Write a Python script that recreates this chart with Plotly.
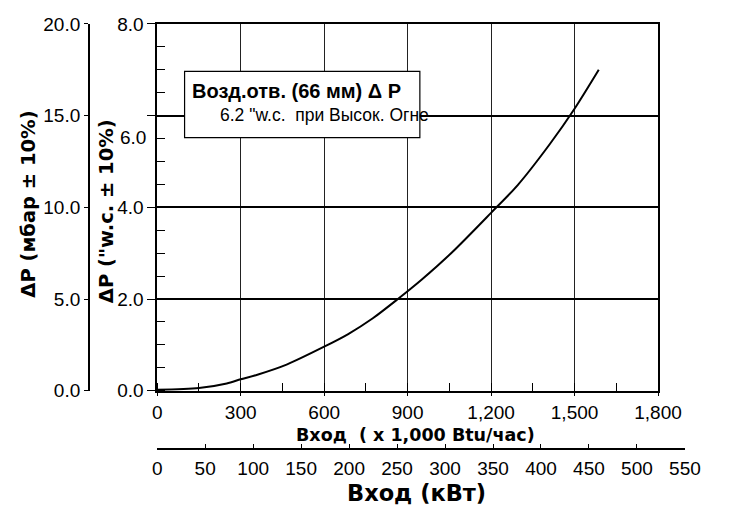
import plotly.graph_objects as go

# Data
input_kbtu = [0, 150, 250, 300, 360, 465, 600, 685, 775, 865, 950, 1060, 1200, 1295, 1410, 1500, 1587]
dp_wc = [0.02, 0.06, 0.16, 0.25, 0.35, 0.57, 0.96, 1.23, 1.58, 2.0, 2.42, 3.02, 3.88, 4.48, 5.37, 6.15, 7.0]

x_ticks = [0, 300, 600, 900, 1200, 1500, 1800]
y_ticks = [0, 2, 4, 6, 8]
y_ticktext = ["0.0", "2.0", "4.0", "", "8.0"]
mbar_ticks = [0, 5, 10, 15, 20]
mbar_ticktext = ["0.0", "5.0", "10.0", "15.0", "20.0"]
kw_ticks = [0, 50, 100, 150, 200, 250, 300, 350, 400, 450, 500, 550]

W, H = 731, 513
FONT = "Liberation Sans, Arial, Helvetica, sans-serif"
WIDE = "DejaVu Sans, Verdana, sans-serif"
TICK = 19

def px(x):
    return x / W

def py(y):
    return 1 - y / H

fig = go.Figure()
fig.add_trace(go.Scatter(
    x=input_kbtu, y=dp_wc, mode="lines",
    line=dict(color="black", width=2, shape="spline", smoothing=0.8),
    showlegend=False, hoverinfo="skip",
))
# empty traces so the secondary axes are drawn
fig.add_trace(go.Scatter(x=[], y=[], xaxis="x", yaxis="y2", showlegend=False, hoverinfo="skip"))
fig.add_trace(go.Scatter(x=[], y=[], xaxis="x2", yaxis="y3", showlegend=False, hoverinfo="skip"))

xdom = [px(158.5), px(680)]
ydom = [py(397), py(14.5)]

fig.update_layout(
    width=W, height=H, autosize=False,
    margin=dict(l=0, r=0, t=0, b=0),
    paper_bgcolor="white", plot_bgcolor="white",
    font=dict(family=FONT, color="black", size=TICK),
    xaxis=dict(
        domain=xdom, range=[0, 1800], tickvals=x_ticks, tickformat=",",
        showline=True, linecolor="black", linewidth=1.5, mirror=True,
        showgrid=True, gridcolor="#222", gridwidth=1.3, zeroline=False,
        ticks="outside", ticklen=4, tickcolor="black", tickwidth=1.3,
        minor=dict(ticks="inside", dtick=150, tick0=0, ticklen=8, tickcolor="black", tickwidth=1.2, showgrid=False),
        tickfont=dict(size=TICK, family=FONT),
    ),
    yaxis=dict(
        domain=ydom, range=[0, 8], tickvals=y_ticks, ticktext=y_ticktext,
        showline=True, linecolor="black", linewidth=1.5, mirror=True,
        showgrid=True, gridcolor="black", gridwidth=1.6, zeroline=False,
        ticks="outside", ticklen=8, tickcolor="black", tickwidth=1.3,
        minor=dict(ticks="inside", dtick=0.5, tick0=0, ticklen=8, tickcolor="black", tickwidth=1.2, showgrid=False),
        tickfont=dict(size=TICK, family=FONT),
    ),
    yaxis2=dict(
        overlaying="y", anchor="free", position=px(87.3), side="left",
        range=[0, 20], tickvals=mbar_ticks, ticktext=mbar_ticktext,
        showline=True, linecolor="black", linewidth=1.5,
        showgrid=False, zeroline=False,
        ticks="outside", ticklen=4, tickcolor="black", tickwidth=1.3,
        tickfont=dict(size=TICK, family=FONT),
    ),
    yaxis3=dict(domain=[py(457), py(456)], range=[0, 1], visible=False),
    xaxis2=dict(
        anchor="y3", side="bottom", domain=[px(158.5), px(708)],
        range=[0, 550], tickvals=kw_ticks,
        showline=True, linecolor="black", linewidth=1.5,
        showgrid=False, zeroline=False,
        ticks="inside", ticklen=5, tickcolor="black", tickwidth=1.3,
        ticklabelstandoff=2,
        tickfont=dict(size=TICK, family=FONT),
    ),
)

# Note box
fig.add_shape(type="rect", xref="paper", yref="paper",
              x0=px(187), x1=px(432), y0=py(133), y1=py(64),
              fillcolor="white", line=dict(color="black", width=1.2), layer="above")

ann = [
    dict(text="<b>Возд.отв. (66 мм) Δ P</b>", x=px(193), y=py(84), xanchor="left", yanchor="middle",
         font=dict(size=20, family=FONT)),
    dict(text="6.2 \"w.c.  при Высок. Огне", x=px(222), y=py(110), xanchor="left", yanchor="middle",
         font=dict(size=17.5, family=FONT)),
    dict(text="<b>ΔP (мбар ± 10%)</b>", x=px(25), y=py(203), xanchor="center", yanchor="middle",
         textangle=-90, font=dict(size=19.5, family=WIDE)),
    dict(text="<b>ΔP (\"w.c. ± 10%)</b>", x=px(106), y=py(210), xanchor="center", yanchor="middle",
         textangle=-90, font=dict(size=19.5, family=WIDE)),
    dict(text="<b>Вход  ( x 1,000 Btu/час)</b>", x=px(427.5), y=py(443), xanchor="center", yanchor="middle",
         font=dict(size=17.5, family=WIDE), borderpad=0),
    dict(text="<b>Вход (кВт)</b>", x=px(428.5), y=py(504), xanchor="center", yanchor="middle",
         font=dict(size=22.5, family=WIDE), borderpad=0),
]
for a in ann:
    a.update(xref="paper", yref="paper", showarrow=False)
    fig.add_annotation(**a)

# "6.0" label drawn below its gridline, as in the reference
fig.add_annotation(text="6.0", xref="paper", yref="y", x=px(149), y=5.52,
                   xanchor="right", yanchor="middle", showarrow=False,
                   font=dict(size=TICK, family=FONT))

fig.write_html("out.html")
